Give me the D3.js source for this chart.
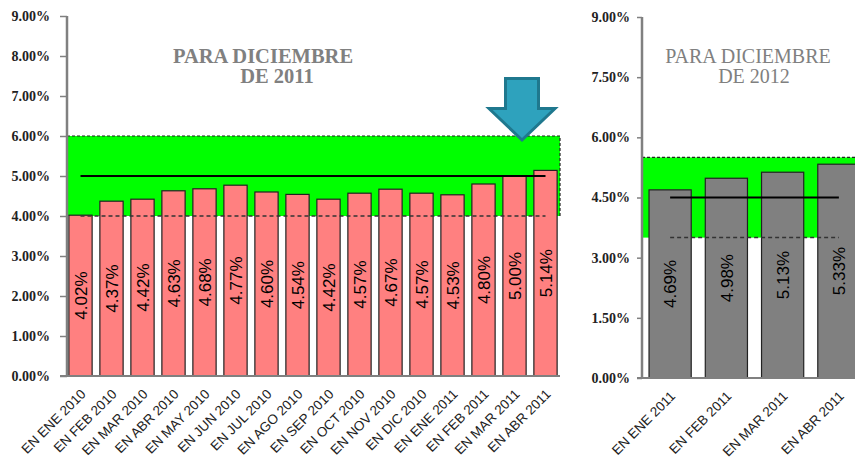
<!DOCTYPE html>
<html>
<head>
<meta charset="utf-8">
<script src="https://cdn.jsdelivr.net/npm/d3@7"></script>
<style>
	body { margin: 0; background: #fff; }
	svg { display: block; }
</style>
</head>
<body>
<svg width="855" height="461"></svg>
<script>
// Expectativas de inflacion para diciembre 2011
var months2011 = ["EN ENE 2010", "EN FEB 2010", "EN MAR 2010", "EN ABR 2010", "EN MAY 2010", "EN JUN 2010",
	"EN JUL 2010", "EN AGO 2010", "EN SEP 2010", "EN OCT 2010", "EN NOV 2010", "EN DIC 2010",
	"EN ENE 2011", "EN FEB 2011", "EN MAR 2011", "EN ABR 2011"];
var values2011 = [4.02, 4.37, 4.42, 4.63, 4.68, 4.77, 4.60, 4.54, 4.42, 4.57, 4.67, 4.57, 4.53, 4.80, 5.00, 5.14];
var target2011 = 5.0;
var band2011 = [4.0, 6.0];
var ticks2011 = [0, 1, 2, 3, 4, 5, 6, 7, 8, 9];

// Expectativas de inflacion para diciembre 2012
var months2012 = ["EN ENE 2011", "EN FEB 2011", "EN MAR 2011", "EN ABR 2011"];
var values2012 = [4.69, 4.98, 5.13, 5.33];
var target2012 = 4.5;
var band2012 = [3.5, 5.5];
var ticks2012 = [0, 1.5, 3, 4.5, 6, 7.5, 9];

var svg = d3.select("svg");
var pct = function(d) { return d3.format(".2f")(d) + "%"; };
var serif = "'Liberation Serif', 'DejaVu Serif', serif";
var sans = "Arial, 'Liberation Sans', sans-serif";

function drawPanel(opt) {
	var g = svg.append("g");
	var x = d3.scaleBand().domain(opt.cats).range(opt.xRange).paddingInner(0.25).paddingOuter(0.125);
	var y = d3.scaleLinear().domain([0, 9]).range(opt.yRange);
	var x0 = opt.axisX;
	var cx = function(d) { return x(d) + x.bandwidth() / 2; };
	var first = opt.cats[0], last = opt.cats[opt.cats.length - 1];

	// green tolerance band
	g.append("rect")
		.attr("x", x0).attr("y", y(opt.band[1]))
		.attr("width", opt.bandRight - x0).attr("height", y(opt.band[0]) - y(opt.band[1]))
		.attr("fill", "#00ff00");
	g.append("path")
		.attr("d", "M" + x0 + "," + y(opt.band[1]) + "H" + opt.bandRight + "V" + y(opt.band[0]))
		.attr("fill", "none").attr("stroke", "#222").attr("stroke-width", 1.2).attr("stroke-dasharray", "3,2");

	// bars
	g.selectAll(".bar").data(opt.vals).enter().append("rect")
		.attr("x", function(d, i) { return x(opt.cats[i]); })
		.attr("y", function(d) { return y(d); })
		.attr("width", x.bandwidth())
		.attr("height", function(d) { return y(0) - y(d); })
		.attr("fill", opt.color).attr("stroke", "#222").attr("stroke-width", 1.2);

	// lower band line (dashed) and target (solid)
	g.append("line")
		.attr("x1", cx(first)).attr("x2", cx(last))
		.attr("y1", y(opt.band[0])).attr("y2", y(opt.band[0]))
		.attr("stroke", "#333").attr("stroke-width", 1.5).attr("stroke-dasharray", "4,3");
	g.append("line")
		.attr("x1", cx(first)).attr("x2", cx(last))
		.attr("y1", y(opt.target)).attr("y2", y(opt.target))
		.attr("stroke", "#000").attr("stroke-width", 2);

	// value labels
	g.selectAll(".val").data(opt.vals).enter().append("text")
		.attr("transform", function(d, i) { return "translate(" + cx(opt.cats[i]) + "," + (y(d) + y(0)) / 2 + ") rotate(-90)"; })
		.attr("text-anchor", "middle").attr("dy", "0.36em")
		.attr("font-family", sans).attr("font-size", 17).attr("fill", "#000")
		.text(pct);

	// y axis
	var yAxis = g.append("g").attr("transform", "translate(" + x0 + ",0)")
		.call(d3.axisLeft(y).tickValues(opt.ticks).tickSize(opt.tickLen).tickPadding(opt.tickPad).tickFormat(pct))
		.attr("font-family", serif).attr("font-size", 14).attr("font-weight", "bold");
	yAxis.select(".domain").attr("stroke", "#808080").attr("stroke-width", 2.5).attr("d", "M0," + y(9) + "V" + y(0));
	yAxis.selectAll(".tick line").attr("stroke", "#808080").attr("stroke-width", 1.5);
	yAxis.selectAll(".tick text").attr("fill", "#222");

	// x axis
	g.append("line")
		.attr("x1", x0 - opt.tickLen).attr("x2", opt.bandRight)
		.attr("y1", y(0)).attr("y2", y(0))
		.attr("stroke", "#808080").attr("stroke-width", 2);
	g.selectAll(".xl").data(opt.cats).enter().append("text")
		.attr("transform", function(d) { return "translate(" + (cx(d) + 6) + "," + (y(0) + 19) + ") rotate(-45)"; })
		.attr("text-anchor", "end")
		.attr("font-family", sans).attr("font-size", 13.5).attr("fill", "#222")
		.text(function(d) { return d; });

	// title
	var t = g.append("text").attr("text-anchor", "middle").attr("fill", "#808080")
		.attr("font-family", serif).attr("font-size", opt.titleSize).attr("font-weight", opt.titleWeight);
	t.append("tspan").attr("x", opt.title[0]).attr("y", 63).text(opt.title[2]);
	t.append("tspan").attr("x", opt.title[1]).attr("y", 83).text(opt.title[3]);
	return g;
}

drawPanel({
	cats: months2011, vals: values2011, target: target2011, band: band2011, ticks: ticks2011,
	xRange: [65, 561], yRange: [376, 16], axisX: 67, bandRight: 560,
	color: "#ff8080", tickLen: 7, tickPad: 10,
	title: [263, 277, "PARA DICIEMBRE", "DE 2011"],
	titleSize: 20.5, titleWeight: "bold"
});

drawPanel({
	cats: months2012, vals: values2012, target: target2012, band: band2012, ticks: ticks2012,
	xRange: [642, 867], yRange: [378, 17], axisX: 642, bandRight: 870,
	color: "#808080", tickLen: 5, tickPad: 7,
	title: [748, 754, "PARA DICIEMBRE", "DE 2012"],
	titleSize: 20, titleWeight: "normal"
});

// arrow pointing at the latest observation
svg.append("path")
	.attr("d", "M505.5,78.5H538.5V108.5H555L522,140L489,108.5H505.5Z")
	.attr("fill", "#2ea2bd").attr("stroke", "#1f788e").attr("stroke-width", 3)
	.attr("stroke-linejoin", "miter");
</script>
</body>
</html>
